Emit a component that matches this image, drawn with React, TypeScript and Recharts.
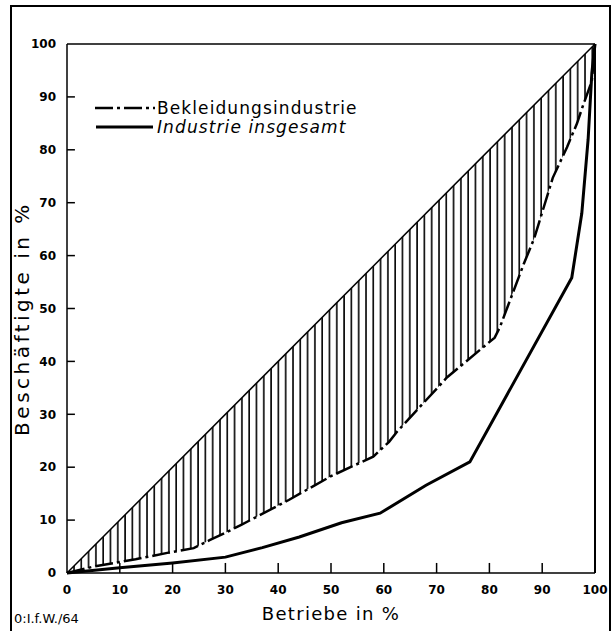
import { ComposedChart, Line, Area, XAxis, YAxis, ReferenceLine } from 'recharts';

// Lorenz curves: share of firms (x) vs share of employees (y), both in %
const diagX = [0, 100];
const diagY = [0, 100];

const bekX = [0, 5, 13, 19, 24, 27, 31, 33, 42, 45, 50, 58, 61, 62.5, 72, 81, 82, 86.5, 88.5, 92, 94.7, 96.6, 97.6, 99.4, 100];
const bekY = [0, 1.2, 2.6, 3.8, 4.7, 6.2, 8.1, 9.1, 13.8, 15.5, 18.3, 22, 24.8, 26.7, 37, 44.5, 46.5, 58.4, 63.3, 74.7, 80.5, 85, 88, 93, 100];

const indX = [0, 10, 20, 30, 37, 44, 52, 59.3, 68, 76.3, 95.6, 97.5, 98.7, 99.4, 100];
const indY = [0, 1, 1.9, 3, 4.8, 6.8, 9.5, 11.3, 16.6, 21, 55.8, 68, 82, 94.5, 100];

const xTicks = [0, 10, 20, 30, 40, 50, 60, 70, 80, 90, 100];
const yTicks = [0, 10, 20, 30, 40, 50, 60, 70, 80, 90, 100];
// inner tick marks (the original draws them pointing into the plot)
const xInner = [10, 20, 30, 40, 50, 60, 70, 80, 90];
const yInner = [10, 20, 30, 40, 50, 60, 70, 80, 90];
const X_TICK_LEN = 1.9; // in axis units
const Y_TICK_LEN = 1.5;

const diagData = diagX.map((x, i) => ({ x, y: diagY[i] }));
const bekData = bekX.map((x, i) => ({ x, y: bekY[i] }));
const indData = indX.map((x, i) => ({ x, y: indY[i] }));
// hatched band between the Bekleidung curve and the equality diagonal
const bandData = bekX.map((x, i) => ({ x, range: [bekY[i], x] }));

const FONT = '"DejaVu Sans", sans-serif';
const DASH = '18 4 3 4';

function YTitle(props: any) {
  const { viewBox } = props;
  const cx = viewBox.x + 12;
  const cy = viewBox.y + viewBox.height / 2 + 10;
  return (
    <text x={cx} y={cy} transform={`rotate(-90, ${cx}, ${cy})`} textAnchor="middle" dominantBaseline="central"
      fill="#000" fontSize={20} fontFamily={FONT} letterSpacing={3.5}>
      Beschäftigte in %
    </text>
  );
}

function LegendBox() {
  return (
    <div style={{ position: 'absolute', left: 93, top: 98, fontFamily: FONT, fontSize: 17, letterSpacing: 1.1, color: '#000' }}>
      <div style={{ display: 'flex', alignItems: 'center', height: 19 }}>
        <svg width={62} height={10}>
          <line x1={2} y1={5} x2={62} y2={5} stroke="#000" strokeWidth={2.5} strokeDasharray={DASH} />
        </svg>
        <span style={{ marginLeft: 2 }}>Bekleidungsindustrie</span>
      </div>
      <div style={{ display: 'flex', alignItems: 'center', height: 19 }}>
        <svg width={62} height={10}>
          <line x1={3} y1={5} x2={60} y2={5} stroke="#000" strokeWidth={3} />
        </svg>
        <span style={{ marginLeft: 2, fontStyle: 'italic' }}>Industrie insgesamt</span>
      </div>
    </div>
  );
}

const tickFont = { fill: '#000', fontSize: 12, fontWeight: 'bold', fontFamily: FONT };

export default function App() {
  return (
    <div style={{ position: 'absolute', left: 0, top: 0, width: 616, height: 631, background: '#fff' }}>
      <div style={{ position: 'absolute', left: 10, top: 5, width: 601, height: 626, border: '2px solid #000', borderBottomWidth: 0, boxSizing: 'border-box' }} />
      <ComposedChart width={616} height={631} margin={{ top: 44, right: 21, bottom: 5, left: 10 }}>
        <defs>
          <pattern id="hatch" patternUnits="userSpaceOnUse" width={7.3} height={10}>
            <line x1={1} y1={0} x2={1} y2={10} stroke="#000" strokeWidth={1.6} />
          </pattern>
        </defs>
        <XAxis type="number" dataKey="x" domain={[0, 100]} ticks={xTicks} height={53} tickSize={0} tickMargin={12}
          tick={tickFont} axisLine={{ stroke: '#000', strokeWidth: 1.5 }}
          label={{ value: 'Betriebe in %', position: 'insideBottom', offset: 6, fill: '#000', fontSize: 18, fontFamily: FONT, style: { letterSpacing: 1.3 } }} />
        <YAxis type="number" dataKey="y" domain={[0, 100]} ticks={yTicks} width={57} tickSize={0} tickMargin={11}
          tick={tickFont} axisLine={{ stroke: '#000', strokeWidth: 1.5 }} label={<YTitle />} />
        <ReferenceLine y={100} stroke="#000" strokeWidth={1.5} />
        <ReferenceLine x={100} stroke="#000" strokeWidth={2} />
        {xInner.map((v) => (
          <ReferenceLine key={`xt${v}`} segment={[{ x: v, y: 0 }, { x: v, y: X_TICK_LEN }]} stroke="#000" strokeWidth={1.5} />
        ))}
        {yInner.map((v) => (
          <ReferenceLine key={`yt${v}`} segment={[{ x: 0, y: v }, { x: Y_TICK_LEN, y: v }]} stroke="#000" strokeWidth={1.5} />
        ))}
        <Area data={bandData} dataKey="range" type="linear" stroke="none" fill="url(#hatch)" fillOpacity={1} isAnimationActive={false} />
        <Line data={diagData} dataKey="y" type="linear" stroke="#000" strokeWidth={1.5} dot={false} isAnimationActive={false} />
        <Line data={bekData} dataKey="y" type="linear" stroke="#000" strokeWidth={2.5} strokeDasharray={DASH} dot={false} isAnimationActive={false} />
        <Line data={indData} dataKey="y" type="linear" stroke="#000" strokeWidth={3} dot={false} isAnimationActive={false} />
      </ComposedChart>
      <LegendBox />
      <div style={{ position: 'absolute', left: 14, top: 611, fontFamily: FONT, fontSize: 13, color: '#000' }}>0:I.f.W./64</div>
    </div>
  );
}
